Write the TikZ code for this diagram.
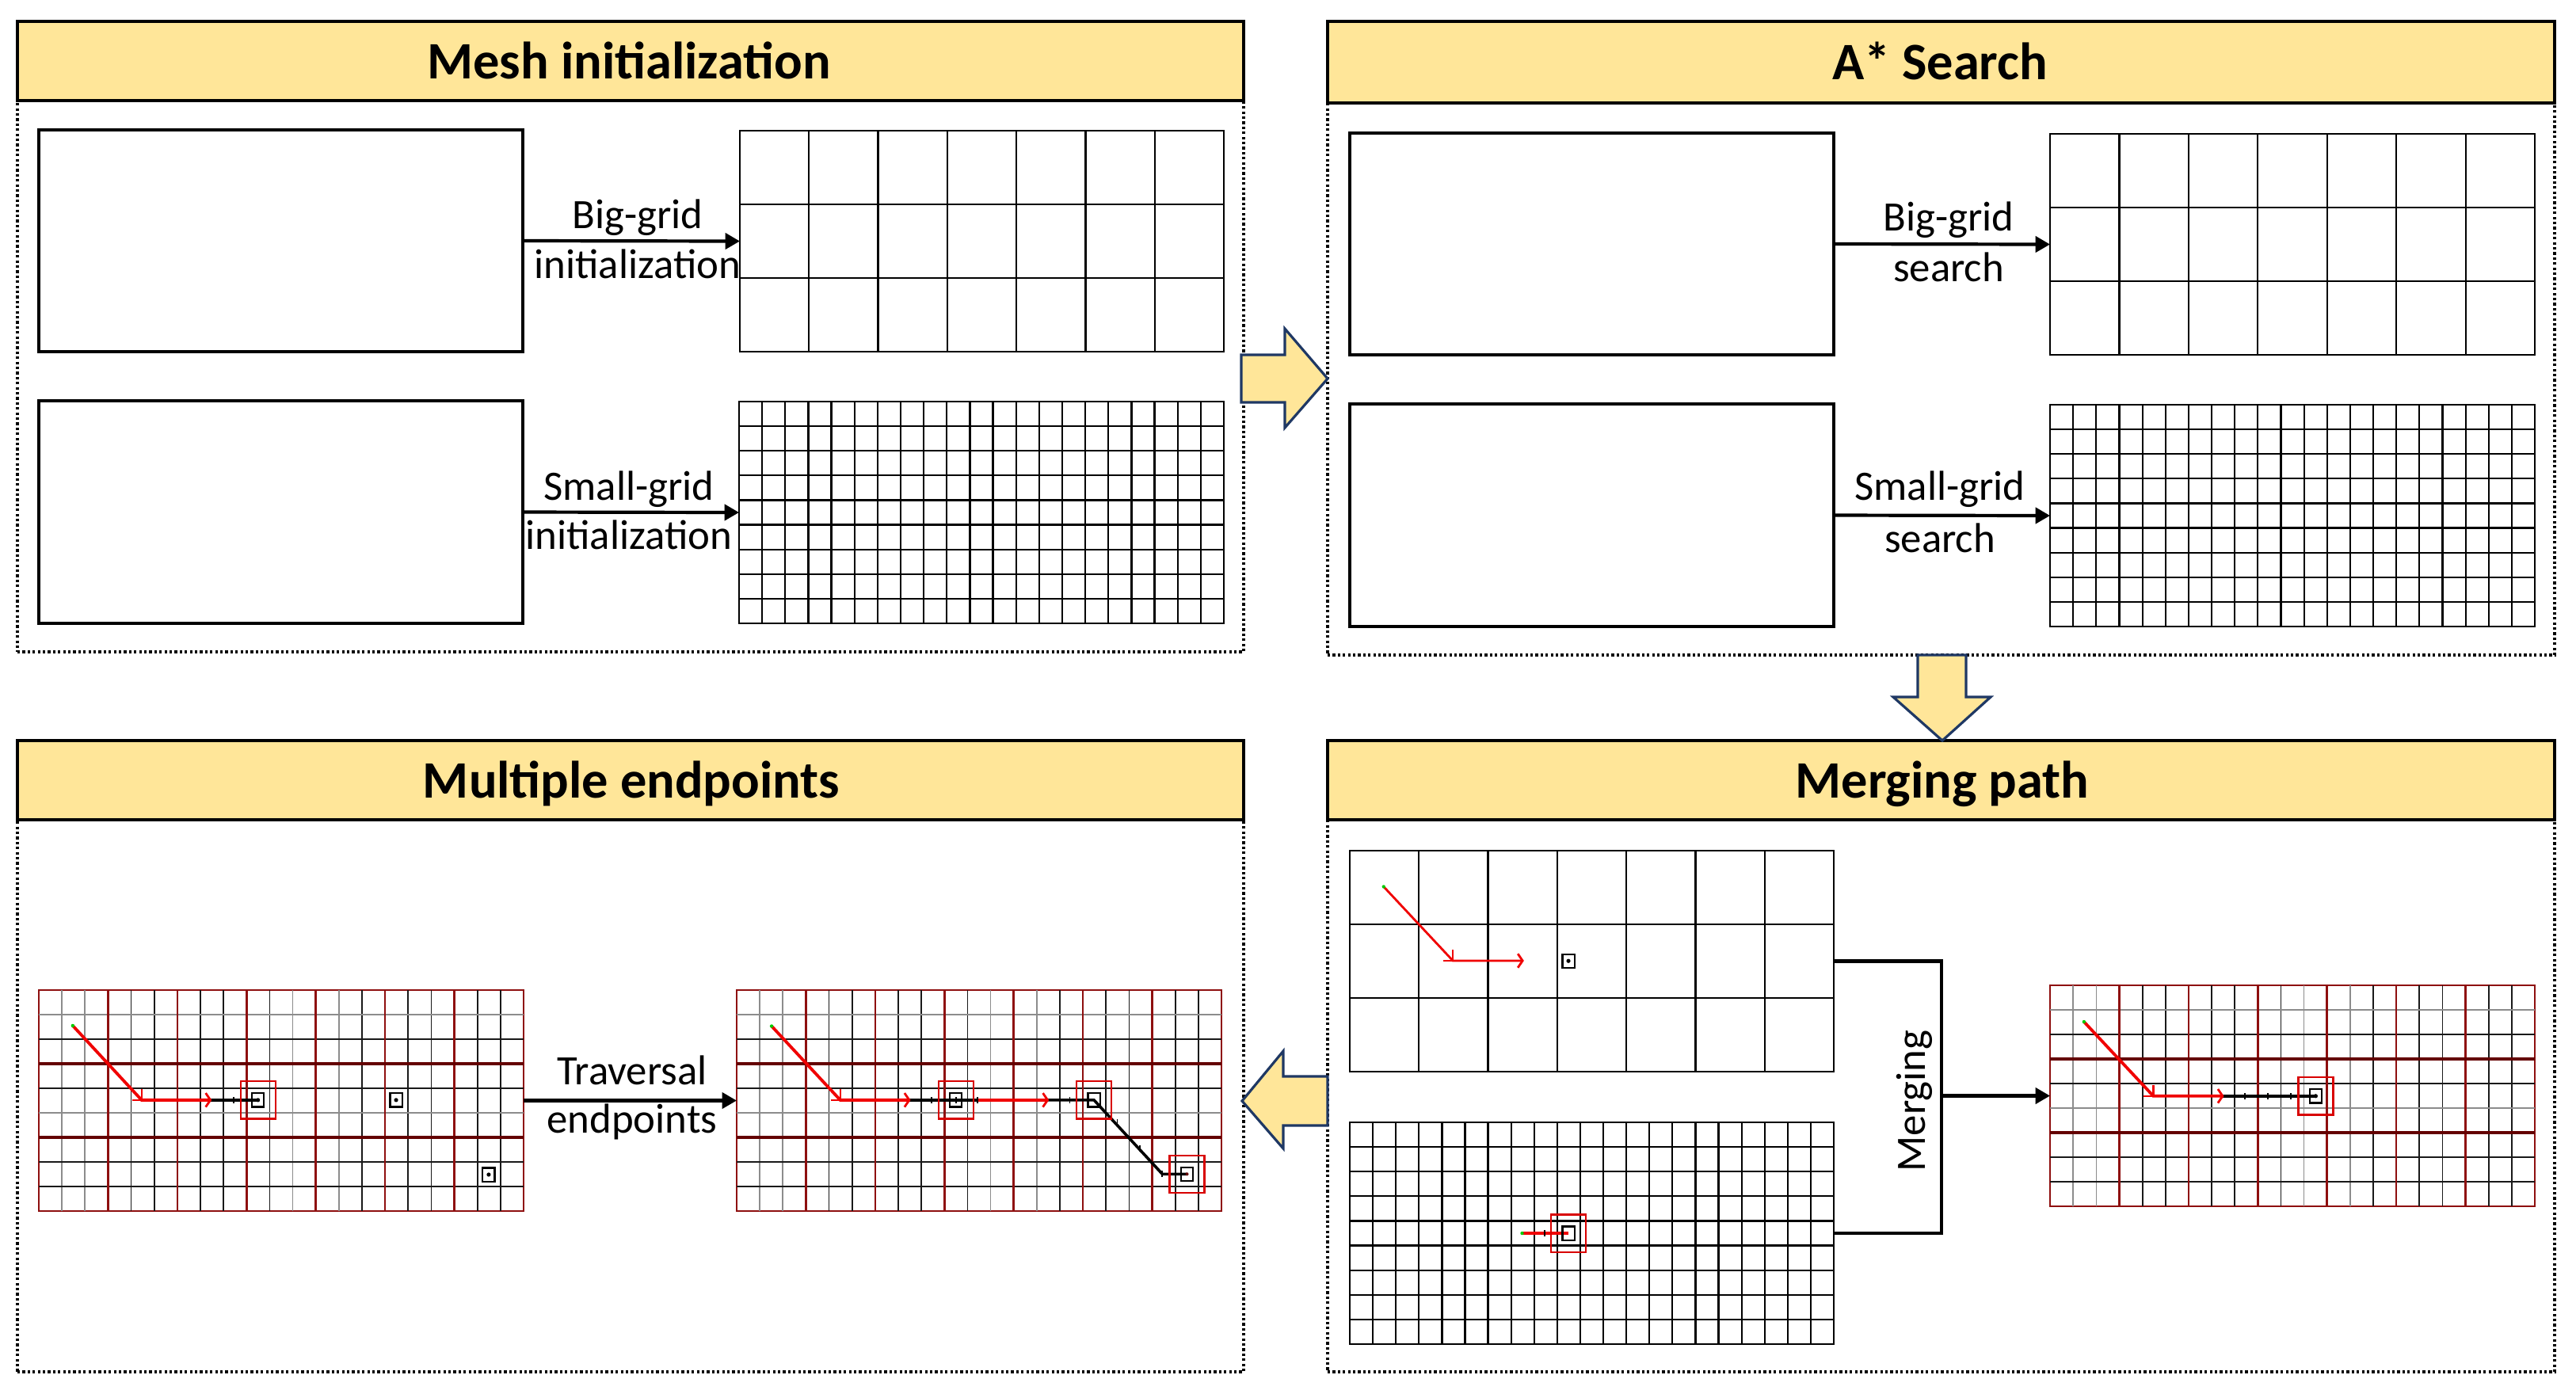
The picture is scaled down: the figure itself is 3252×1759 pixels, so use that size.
\documentclass[tikz,border=0pt]{standalone}
\usepackage{fontspec}
\setmainfont{Carlito}
\usetikzlibrary{arrows.meta}
\definecolor{hdrfill}{HTML}{FFE699}
\definecolor{navyline}{HTML}{1F3864}
\definecolor{gridred}{HTML}{8E0F0F}
\definecolor{gridredd}{HTML}{640000}
\definecolor{pathred}{HTML}{F00000}
\tikzset{
  x=0.25pt,y=-0.25pt,
  hdr/.style={draw=black,fill=hdrfill,line width=0.9pt,anchor=north west,inner sep=0pt,outer sep=0pt},
  titletext/.style={font=\fontsize{16.6}{18}\selectfont\bfseries,inner sep=0pt,outer sep=0pt,text height=11pt,text depth=3.5pt},
  bodybox/.style={draw=black,line width=0.8pt,dash pattern=on 0.8pt off 0.8pt,anchor=north west,inner sep=0pt,outer sep=0pt},
  blank/.style={draw=black,line width=0.8pt,anchor=north west,inner sep=0pt,outer sep=0pt},
  frame/.style={draw=black,line width=0.55pt,anchor=north west,inner sep=0pt,outer sep=0pt},
  rframe/.style={draw=gridred,line width=0.6pt,anchor=north west,inner sep=0pt,outer sep=0pt},
  conn/.style={draw=black,line width=1.05pt},
  connarrow/.style={conn,-{Triangle[length=4.6pt,width=5pt]}},
  lbl/.style={font=\fontsize{13.2}{15}\selectfont,inner sep=0pt,outer sep=0pt,text height=9pt,text depth=3pt},
  blockarrow/.style={draw=navyline,fill=hdrfill,line width=0.8pt,line join=miter},
  gline/.style={black,line width=0.55pt},
  gthin/.style={black!90,line width=0.45pt},
  ggray/.style={black!45,line width=0.4pt},
  rv/.style={gridred,line width=0.65pt},
  rh/.style={gridredd,line width=0.95pt},
  rpath/.style={pathred,line width=0.95pt,line cap=butt},
  kpath/.style={black,line width=0.9pt,line cap=butt},
  rtarget/.style={pathred!90!black,line width=0.55pt},
  ktarget/.style={black,line width=0.55pt},
}
% boxed node from pixel corners
\newcommand{\pxnode}[7]{\node[#1,minimum width={(#5-#3)*0.25pt},minimum height={(#6-#4)*0.25pt}] (#2) at (#3,#4) {#7};}
% plain grid
\newcommand{\plaingrid}[7]{%
  \pxnode{frame}{#1}{#2}{#3}{#4}{#5}{}
  \begin{scope}[shift={(#2,#3)},x={({(#4-#2)*0.25pt},0pt)},y={(0pt,{(#5-#3)*(-0.25pt)})}]
    \foreach \i in {1,...,#6} {\draw[gline] ({\i/(#6+1)},0) -- ({\i/(#6+1)},1);}
    \foreach \j in {1,...,#7} {\draw[gline] (0,{\j/(#7+1)}) -- (1,{\j/(#7+1)});}
  \end{scope}}
% overlay grid: #6 extra drawings in fractions of the grid
\newcommand{\redgrid}[6]{%
  \pxnode{rframe}{#1}{#2}{#3}{#4}{#5}{}
  \begin{scope}[shift={(#2,#3)},x={({(#4-#2)*0.25pt},0pt)},y={(0pt,{(#5-#3)*(-0.25pt)})}]
    \foreach \i in {4,5,7,8,10,14,16,17,19,20} {\draw[gthin] ({\i/21},0) -- ({\i/21},1);}
    \foreach \i in {1,2,11,13} {\draw[ggray] ({\i/21},0) -- ({\i/21},1);}
    \foreach \j in {2,4,7,8} {\draw[gthin] (0,{\j/9}) -- (1,{\j/9});}
    \foreach \j in {1,5} {\draw[ggray] (0,{\j/9}) -- (1,{\j/9});}
    \foreach \i in {3,6,9,12,15,18} {\draw[rv] ({\i/21},0) -- ({\i/21},1);}
    \foreach \j in {3,6} {\draw[rh] (0,{\j/9}) -- (1,{\j/9});}
    #6
  \end{scope}}
\newcommand{\scopedgrid}[5]{%
  \begin{scope}[shift={(#1,#2)},x={({(#3-#1)*0.25pt},0pt)},y={(0pt,{(#4-#2)*(-0.25pt)})}]#5\end{scope}}
\newcommand{\startdot}[2]{\fill[green!80!black] (#1,#2) circle[radius=0.55pt];}
\newcommand{\bendhead}[2]{\draw[pathred,line width=0.6pt] ([xshift=-3pt]#1,#2) -- (#1,#2) -- ([yshift=3.5pt]#1,#2);}
\newcommand{\barbhead}[2]{\draw[pathred,line width=0.7pt] ([xshift=-1.5pt,yshift=2.2pt]#1,#2) -- (#1,#2) -- ([xshift=-1.5pt,yshift=-2.2pt]#1,#2);}
\newcommand{\ticky}[2]{\draw[black,line width=0.45pt] ([yshift=-1pt]#1,#2) -- ([yshift=1pt]#1,#2);}
\newcommand{\ksquare}[2]{\draw[ktarget] ([xshift=-1.9pt,yshift=-2.15pt]#1,#2) rectangle ([xshift=1.9pt,yshift=2.15pt]#1,#2);}
\newcommand{\rsquare}[2]{\draw[rtarget] ([xshift=-5.5pt,yshift=-5.9pt]#1,#2) rectangle ([xshift=5.5pt,yshift=5.9pt]#1,#2);}
\newcommand{\kdot}[2]{\fill[black] (#1,#2) circle[radius=0.65pt];}
\begin{document}
\begin{tikzpicture}
\useasboundingbox (0,0) rectangle (3252,1759);
% panel bodies
\pxnode{bodybox}{body1}{22}{127}{1570}{823}{}
\pxnode{bodybox}{body2}{1676}{130}{3225}{827}{}
\pxnode{bodybox}{body3}{22}{1035}{1570}{1732}{}
\pxnode{bodybox}{body4}{1676}{1035}{3225}{1732}{}
% headers
\pxnode{hdr}{head1}{22}{27}{1570}{127}{}
\pxnode{hdr}{head2}{1676}{27}{3225}{130}{}
\pxnode{hdr}{head3}{22}{935}{1570}{1035}{}
\pxnode{hdr}{head4}{1676}{935}{3225}{1035}{}
\node[titletext] (t1) at (794,84) {Mesh initialization};
\node[titletext] (t2) at (2449,85) {A* Search};
\node[titletext] (t3) at (797,992) {Multiple endpoints};
\node[titletext] (t4) at (2452,992) {Merging path};
% panel 1
\pxnode{blank}{b1a}{49}{164}{660}{444}{}
\pxnode{blank}{b1b}{49}{506}{660}{787}{}
\plaingrid{g1a}{934}{165}{1545}{444}{6}{2}
\plaingrid{g1b}{933}{507}{1545}{787}{20}{8}
\draw[connarrow] (b1a.east) -- (g1a.west);
\draw[connarrow] (b1b.east) -- (g1b.west);
\node[lbl] (l1) at (805,276) {Big-grid};
\node[lbl] (l2) at (805,339) {initialization};
\node[lbl] (l3) at (794,619) {Small-grid};
\node[lbl] (l4) at (794,681) {initialization};
% panel 2
\pxnode{blank}{b2a}{1704}{168}{2315}{448}{}
\pxnode{blank}{b2b}{1704}{510}{2315}{791}{}
\plaingrid{g2a}{2588}{169}{3200}{448}{6}{2}
\plaingrid{g2b}{2588}{511}{3200}{791}{20}{8}
\draw[connarrow] (b2a.east) -- (g2a.west);
\draw[connarrow] (b2b.east) -- (g2b.west);
\node[lbl] (l5) at (2460,279) {Big-grid};
\node[lbl] (l6) at (2460,343) {search};
\node[lbl] (l7) at (2449,619) {Small-grid};
\node[lbl] (l8) at (2449,685) {search};
% panel 3
\redgrid{g3a}{49}{1250}{661}{1529}{%
  \draw[kpath] (.354,.4976) -- (.452,.4976);
  \draw[rpath] (.07,.161) -- (.212,.4976) -- (.354,.4976);
  \bendhead{.212}{.4976}\barbhead{.354}{.4976}\ticky{.402}{.4976}
  \startdot{.07}{.161}
  \ksquare{.452}{.4976}\kdot{.452}{.4976}\rsquare{.452}{.4976}
  \ksquare{.737}{.4976}\kdot{.737}{.4976}
  \ksquare{.928}{.835}\kdot{.928}{.835}
}
\redgrid{g3b}{930}{1250}{1542}{1529}{%
  \draw[kpath] (.356,.4976) -- (.4965,.4976);
  \draw[kpath] (.6414,.4976) -- (.737,.4976) -- (.878,.8325) -- (.929,.8325);
  \draw[rpath] (.072,.163) -- (.2136,.4976) -- (.356,.4976);
  \draw[rpath] (.4965,.4976) -- (.6414,.4976);
  \bendhead{.2136}{.4976}\barbhead{.356}{.4976}\barbhead{.6414}{.4976}
  \ticky{.402}{.4976}\ticky{.452}{.4976}\ticky{.4965}{.4976}\ticky{.687}{.4976}
  \ticky{.785}{.6}\ticky{.832}{.715}\ticky{.878}{.8325}
  \startdot{.072}{.163}
  \ksquare{.452}{.4976}\rsquare{.452}{.4976}
  \ksquare{.737}{.4976}\rsquare{.737}{.4976}
  \ksquare{.929}{.8325}\rsquare{.929}{.8325}\fill[gridredd] (.929,.8325) circle[radius=0.5pt];
}
\draw[connarrow] (g3a.east) -- (g3b.west);
\node[lbl] (l9) at (798,1357) {Traversal};
\node[lbl] (l10) at (798,1418) {endpoints};
% panel 4
\plaingrid{g4a}{1704}{1074}{2315}{1353}{6}{2}
\scopedgrid{1704}{1074}{2315}{1353}{%
  \draw[pathred,line width=0.7pt] (.07,.163) -- (.213,.498) -- (.357,.498);
  \bendhead{.213}{.498}\barbhead{.357}{.498}
  \startdot{.07}{.163}
  \ksquare{.4517}{.499}\kdot{.4517}{.499}
}
\plaingrid{g4b}{1704}{1417}{2315}{1697}{20}{8}
\scopedgrid{1704}{1417}{2315}{1697}{%
  \draw[pathred,line width=0.8pt] (.356,.5) -- (.4517,.5);
  \startdot{.356}{.5}
  \ticky{.402}{.5}
  \ksquare{.4517}{.5}\rsquare{.4517}{.5}
}
\redgrid{g4c}{2588}{1244}{3200}{1523}{%
  \draw[kpath] (.356,.501) -- (.548,.501);
  \draw[rpath] (.07,.165) -- (.213,.501) -- (.356,.501);
  \bendhead{.213}{.501}\barbhead{.356}{.501}
  \ticky{.4015}{.501}\ticky{.449}{.501}\ticky{.497}{.501}
  \startdot{.07}{.165}
  \ksquare{.548}{.501}\kdot{.548}{.501}\rsquare{.548}{.501}
}
\coordinate (mj) at (2451,1383.5);
\draw[conn] (g4a.east) -| (mj) |- (g4b.east);
\draw[connarrow] (mj) -- (g4c.west);
\node[lbl,rotate=90] (l11) at (2418,1390) {Merging};
% block arrows
\draw[blockarrow] (1567,448) -- (1622,448) -- (1622,415) -- (1676,478) -- (1622,540) -- (1622,508) -- (1567,508) -- cycle;
\draw[blockarrow] (2421,827) -- (2482,827) -- (2482,880) -- (2513,880) -- (2452,935) -- (2390,880) -- (2421,880) -- cycle;
\draw[blockarrow] (1676,1359) -- (1620,1359) -- (1620,1327) -- (1568,1390) -- (1620,1450) -- (1620,1421) -- (1676,1421) -- cycle;
\end{tikzpicture}
\end{document}
